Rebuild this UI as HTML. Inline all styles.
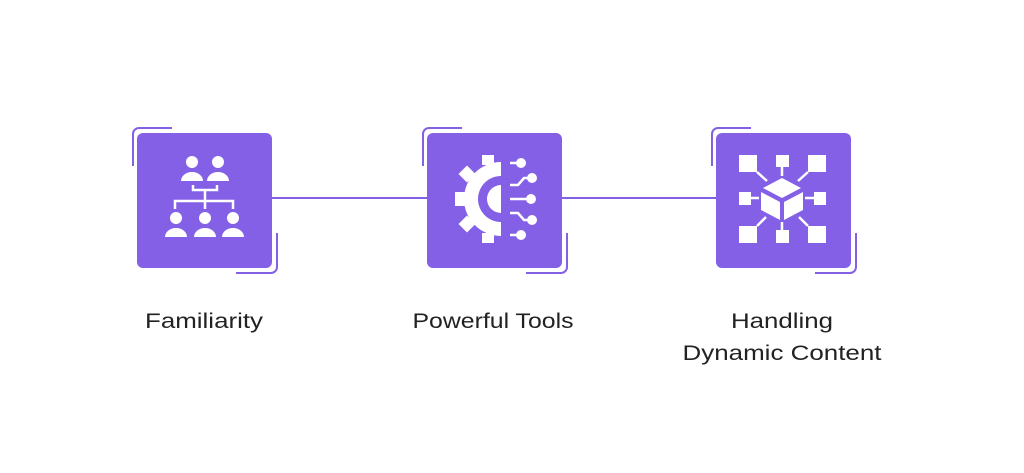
<!DOCTYPE html>
<html><head><style>body{margin:0;background:#fff}svg{display:block}</style></head><body>
<svg width="1024" height="473" viewBox="0 0 1024 473" xmlns="http://www.w3.org/2000/svg">
<g stroke="#8360e6" stroke-width="2" fill="none">
<line x1="272" y1="198" x2="427" y2="198"/>
<line x1="562" y1="198" x2="716" y2="198"/>
</g>
<g id="b1">
<path d="M172 128 H139 a6 6 0 0 0 -6 6 V166" stroke="#8360e6" stroke-width="2" fill="none"/>
<path d="M277 233 V267 a6 6 0 0 1 -6 6 H236" stroke="#8360e6" stroke-width="2" fill="none"/>
<rect x="137" y="133" width="135" height="135" rx="6" fill="#8360e6"/>
</g>
<use href="#b1" x="290"/>
<use href="#b1" x="579"/>
<!-- icon 1 -->
<g fill="#fff">
<circle cx="192" cy="162" r="6"/><path d="M181 181 a11 9 0 0 1 22 0z"/>
<circle cx="218" cy="162" r="6"/><path d="M207 181 a11 9 0 0 1 22 0z"/>
<circle cx="176" cy="218" r="6"/><path d="M165 237 a11 9 0 0 1 22 0z"/>
<circle cx="205" cy="218" r="6"/><path d="M194 237 a11 9 0 0 1 22 0z"/>
<circle cx="233" cy="218" r="6"/><path d="M222 237 a11 9 0 0 1 22 0z"/>
</g>
<g stroke="#fff" stroke-width="2.5" fill="none">
<path d="M193 185 V190 H217 V185 M205 190 V200 M175 209 V201 H233 V209 M205 200 V209"/>
</g>
<!-- icon 2 -->
<g fill="#fff">
<path d="M501 162 V236 A37 37 0 0 1 464 199 A37 37 0 0 1 501 162z"/>
<rect x="455" y="192" width="12" height="14"/>
<rect x="461" y="168" width="12" height="12" transform="rotate(-45 467 174)"/>
<rect x="461" y="218" width="12" height="12" transform="rotate(45 467 224)"/>
<rect x="482" y="155" width="12" height="10"/>
<rect x="482" y="233" width="12" height="10"/>
</g>
<path d="M501 176 A23 23 0 0 0 501 222 V213 A14 14 0 0 1 501 185z" fill="#8360e6"/>
<g stroke="#fff" stroke-width="2.5" fill="none">
<path d="M510 163 H520 M510 185 H518 L524 178 H530 M510 199 H528 M510 213 H518 L524 220 H530 M510 235 H520"/>
</g>
<g fill="#fff"><circle cx="521" cy="163" r="5"/><circle cx="532" cy="178" r="5"/><circle cx="531" cy="199" r="5"/><circle cx="532" cy="220" r="5"/><circle cx="521" cy="235" r="5"/></g>
<!-- icon 3 -->
<g fill="#fff">
<rect x="739" y="155" width="18" height="17"/><rect x="776" y="155" width="13" height="12"/><rect x="808" y="155" width="18" height="17"/>
<rect x="739" y="192" width="12" height="13"/><rect x="814" y="192" width="12" height="13"/>
<rect x="739" y="226" width="18" height="17"/><rect x="776" y="230" width="13" height="13"/><rect x="808" y="226" width="18" height="17"/>
<path d="M782 178 L801 188 L782 198 L763 188z"/>
<path d="M761 192 L780 202 V220 L761 210z"/>
<path d="M784 202 L803 192 V210 L784 220z"/>
</g>
<g stroke="#fff" stroke-width="2.5">
<line x1="782" y1="167" x2="782" y2="176"/><line x1="782" y1="222" x2="782" y2="230"/>
<line x1="751" y1="198" x2="759" y2="198"/><line x1="805" y1="198" x2="814" y2="198"/>
<line x1="757" y1="172" x2="767" y2="181"/><line x1="808" y1="172" x2="798" y2="181"/>
<line x1="757" y1="226" x2="766" y2="217"/><line x1="808" y1="226" x2="799" y2="217"/>
</g>
<g font-family="Liberation Sans, sans-serif" font-size="21" fill="#222" text-anchor="middle">
<text x="204" y="328" textLength="118" lengthAdjust="spacingAndGlyphs">Familiarity</text>
<text x="493" y="328" textLength="161" lengthAdjust="spacingAndGlyphs">Powerful Tools</text>
<text x="782" y="328" textLength="102" lengthAdjust="spacingAndGlyphs">Handling</text>
<text x="782" y="360" textLength="199" lengthAdjust="spacingAndGlyphs">Dynamic Content</text>
</g>
</svg>
</body></html>
